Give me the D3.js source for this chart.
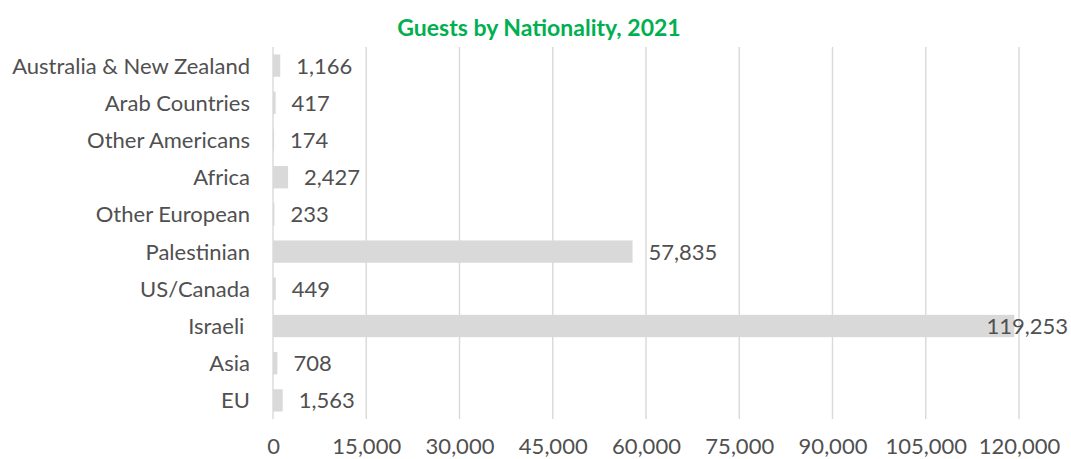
<!DOCTYPE html>
<html>
<head>
<meta charset="utf-8">
<script src="https://cdn.jsdelivr.net/npm/d3@7"></script>
<style>
  html, body { margin: 0; padding: 0; background: #fff; }
  svg { display: block; }
  text { font-family: Lato, "Open Sans", sans-serif; }
</style>
</head>
<body>
<svg id="chart" width="1071" height="459"></svg>
<script>
// Guests by nationality, 2021 (listed top to bottom)
const categories = [
  "Australia & New Zealand", "Arab Countries", "Other Americans", "Africa",
  "Other European", "Palestinian", "US/Canada", "Israeli ", "Asia", "EU"
];
const guests = [1166, 417, 174, 2427, 233, 57835, 449, 119253, 708, 1563];
const tickValues = [0, 15000, 30000, 45000, 60000, 75000, 90000, 105000, 120000];
const title = "Guests by Nationality, 2021";

const W = 1071, H = 459;
const margin = { top: 47, right: 52, bottom: 40, left: 273 };
const svg = d3.select("#chart");

const x = d3.scaleLinear()
  .domain([0, 120000])
  .range([margin.left, W - margin.right]);

const y = d3.scaleBand()
  .domain(categories)
  .range([margin.top, H - margin.bottom])
  .paddingInner(0.4)
  .paddingOuter(0.2);

const fmt = d3.format(",");
const textColor = "#505050";

// title
svg.append("text")
  .attr("x", 539).attr("y", 36)
  .attr("text-anchor", "middle")
  .attr("font-size", 23).attr("font-weight", 700)
  .attr("fill", "#00B050")
  .text(title);

// vertical gridlines
svg.append("g")
  .selectAll("line")
  .data(tickValues)
  .join("line")
  .attr("x1", d => x(d)).attr("x2", d => x(d))
  .attr("y1", margin.top).attr("y2", H - margin.bottom)
  .attr("stroke", "#d9d9d9").attr("stroke-width", 1.4);

// bottom axis labels
const xAxis = d3.axisBottom(x)
  .tickValues(tickValues)
  .tickFormat(fmt)
  .tickSize(0)
  .tickPadding(0);
const gx = svg.append("g")
  .attr("transform", `translate(0,${H - margin.bottom})`)
  .call(xAxis);
gx.select(".domain").remove();
gx.selectAll("text")
  .attr("y", 0).attr("dy", 0)
  .attr("transform", "translate(0,35)")
  .attr("font-size", 22).attr("fill", textColor)
  .style("font-family", "Lato, 'Open Sans', sans-serif");

// category labels
const yAxis = d3.axisLeft(y).tickSize(0).tickPadding(0);
const gy = svg.append("g")
  .attr("transform", `translate(${margin.left - 23},0)`)
  .call(yAxis);
gy.select(".domain").remove();
gy.selectAll("text")
  .attr("dy", "0.36em")
  .attr("font-size", 22).attr("fill", textColor)
  .style("white-space", "pre")
  .style("font-family", "Lato, 'Open Sans', sans-serif");

// bars
svg.append("g")
  .selectAll("rect")
  .data(categories)
  .join("rect")
  .attr("x", x(0))
  .attr("y", d => y(d))
  .attr("width", (d, i) => x(guests[i]) - x(0))
  .attr("height", y.bandwidth())
  .attr("fill", "#d9d9d9");

// value labels
const labels = svg.append("g")
  .selectAll("text")
  .data(categories)
  .join("text")
  .attr("y", d => y(d) + y.bandwidth() / 2)
  .attr("dy", "0.36em")
  .attr("font-size", 22).attr("fill", textColor)
  .text((d, i) => fmt(guests[i]));
labels.each(function (d, i) {
  const w = this.getComputedTextLength();
  let lx = x(guests[i]) + 16;
  if (lx + w > W - 3) lx = W - 3 - w;
  d3.select(this).attr("x", lx);
});
</script>
</body>
</html>
